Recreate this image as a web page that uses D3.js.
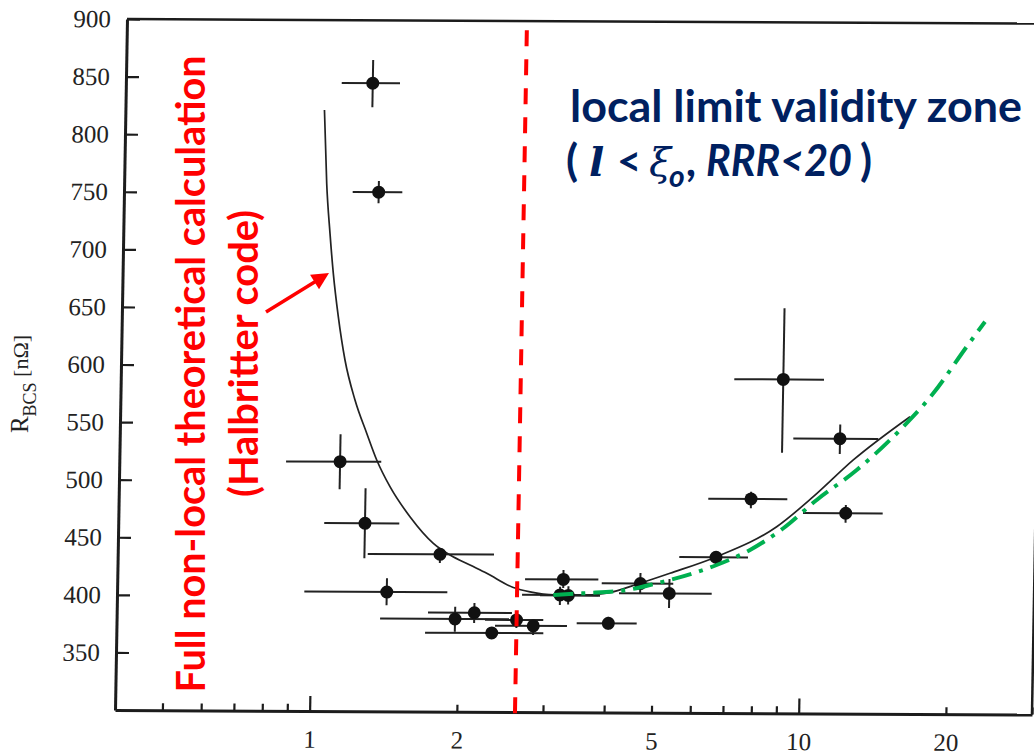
<!DOCTYPE html>
<html><head><meta charset="utf-8">
<script src="https://cdn.jsdelivr.net/npm/d3@7"></script>
<style>html,body{margin:0;padding:0;background:#fff;} svg{display:block;}</style>
</head><body>
<svg id="chart" width="1034" height="754"></svg>
<script>
// ---- data (RRR on log x, R_BCS in nOhm on y) ----
const rrr     = [1.279, 1.327, 1.131, 1.278, 1.824, 1.424, 1.968, 2.154, 2.629, 2.846, 2.342, 3.267, 3.220, 3.348, 4.052, 4.695, 5.385, 6.690, 7.852, 9.052, 11.880, 12.277];
const rbcs    = [845.3, 750.7, 516.6, 463.2, 436.6, 403.6, 380.5, 386.0, 379.9, 374.8, 368.5, 415.3, 401.8, 401.4, 377.4, 412.1, 403.6, 435.2, 486.0, 589.9, 538.7, 474.0];
const rrrLo   = [1.105, 1.174, 0.877, 1.055, 1.298, 0.966, 1.383, 1.732, 2.267, 2.377, 1.711, 2.728, 2.693, 2.931, 3.491, 3.915, 4.250, 5.628, 6.421, 7.187, 9.535, 10.040];
const rrrHi   = [1.454, 1.483, 1.373, 1.502, 2.352, 1.894, 2.803, 2.572, 2.982, 3.336, 2.986, 3.852, 3.852, 3.888, 4.631, 5.483, 6.576, 7.779, 9.315, 10.963, 14.227, 14.611];
const rbcsLo  = [824.5, 741.1, 492.6, 432.8, 429.0, 392.1, 369.5, 377.1, 373.0, 366.9, 365.0, 407.8, 393.1, 393.5, 372.0, 403.8, 390.9, 429.4, 477.9, 526.3, 525.4, 465.8];
const rbcsHi  = [865.5, 760.5, 540.4, 493.6, 442.1, 415.5, 391.2, 394.5, 386.8, 380.8, 372.0, 423.5, 409.0, 409.5, 383.0, 421.2, 416.2, 440.7, 492.3, 651.7, 551.0, 481.1];

// full non-local theory (Halbritter code)
const theoryRRR  = [1.021, 1.038, 1.0586, 1.0787, 1.1083, 1.1478, 1.2071, 1.279, 1.3437, 1.4334, 1.5787, 1.766, 1.9123, 2.1026, 2.2766, 2.583, 2.7964, 3.1205, 3.6519, 4.0117, 4.6881, 5.3938, 6.7119, 8.8817, 10.525, 12.669, 16.488];
const theoryRBCS = [821.9, 758.3, 714.8, 680.1, 642.5, 604.9, 570.2, 541.4, 518.2, 495.1, 469.1, 446.1, 436.0, 427.4, 420.3, 408.1, 404.3, 401.8, 401.9, 403.5, 412.3, 421.1, 435.7, 462.0, 488.2, 520.3, 558.1];

// local limit curve (green dash-dot)
const localRRR  = [3.12, 3.594, 4.406, 5.071, 6.021, 6.716, 7.848, 9.163, 10.698, 12.884, 15.746, 18.36, 21.41, 23.284];
const localRBCS = [401.8, 403.4, 406.4, 412.4, 421.2, 428.5, 441.7, 460.7, 485.4, 511.6, 546.5, 578.5, 619.2, 640.9];

const boundaryRRR = 2.63;            // red dashed boundary
const yTicks = [350, 400, 450, 500, 550, 600, 650, 700, 750, 800, 850, 900];
const xMajor = [1, 2, 5, 10, 20];
const xLong  = [1, 10];
const xMinor = [0.5, 0.6, 0.7, 0.8, 0.9, 3, 4, 6, 7, 8, 9, 30];

// ---- scales ----
const x = d3.scaleLog().domain([0.4, 30]).range([115, 1032]);
const y = d3.scaleLinear().domain([300, 900]).range([710, 19]);

const svg = d3.select("#chart");
svg.append("rect").attr("width", 1034).attr("height", 754).attr("fill", "#fff");

// scanned figure is slightly sheared
const g = svg.append("g").attr("transform", "matrix(1,0.005,-0.01737,1,12.33,-0.575)");
const ink = "#1c1c1c";
const serif = "'Liberation Serif','Times New Roman',serif";

// frame top / right
g.append("line").attr("x1", x.range()[0]).attr("x2", x.range()[1]).attr("y1", y(900)).attr("y2", y(900))
  .attr("stroke", ink).attr("stroke-width", 2.5);
g.append("line").attr("x1", x.range()[1]).attr("x2", x.range()[1]).attr("y1", y(900)).attr("y2", y(300))
  .attr("stroke", ink).attr("stroke-width", 2.5);

// y axis
const ya = g.append("g").attr("transform", `translate(${x.range()[0]},0)`)
  .call(d3.axisLeft(y).tickValues(yTicks).tickSizeInner(-13).tickSizeOuter(0).tickPadding(16).tickFormat(d3.format("d")));
ya.select(".domain").attr("stroke", ink).attr("stroke-width", 3);
ya.selectAll(".tick line").attr("stroke", ink).attr("stroke-width", 2.2);
ya.selectAll(".tick text").attr("font-family", serif).attr("font-size", 25).attr("fill", "#222");

// x axis
const xa = g.append("g").attr("transform", `translate(0,${y(300)})`)
  .call(d3.axisBottom(x).tickValues(xMinor).tickSizeInner(-7).tickSizeOuter(0).tickFormat(""));
xa.select(".domain").attr("stroke", ink).attr("stroke-width", 3);
xa.selectAll(".tick line").attr("stroke", ink).attr("stroke-width", 2.2);
const xb = g.append("g").attr("transform", `translate(0,${y(300)})`)
  .call(d3.axisBottom(x).tickValues(xMajor).tickSizeInner(-7).tickSizeOuter(0).tickPadding(19).tickFormat(d3.format("d")));
xb.select(".domain").remove();
xb.selectAll(".tick line").attr("stroke", ink).attr("stroke-width", 2.2)
  .attr("y2", d => xLong.includes(d) ? -15 : -7);
xb.selectAll(".tick text").attr("font-family", serif).attr("font-size", 25).attr("fill", "#222");

// theory curve
const thLine = d3.line().x(d => x(d[0])).y(d => y(d[1])).curve(d3.curveMonotoneX);
g.append("path").datum(theoryRRR.map((v, i) => [v, theoryRBCS[i]]))
  .attr("d", thLine).attr("fill", "none").attr("stroke", "#222").attr("stroke-width", 1.7);

// error bars + points
const pts = rrr.map((v, i) => ({x: v, y: rbcs[i], xl: rrrLo[i], xh: rrrHi[i], yl: rbcsLo[i], yh: rbcsHi[i]}));
const eb = g.append("g").attr("stroke", "#222").attr("stroke-width", 2);
eb.selectAll("line.h").data(pts).join("line").attr("class", "h")
  .attr("x1", d => x(d.xl)).attr("x2", d => x(d.xh)).attr("y1", d => y(d.y)).attr("y2", d => y(d.y));
eb.selectAll("line.v").data(pts).join("line").attr("class", "v")
  .attr("x1", d => x(d.x)).attr("x2", d => x(d.x)).attr("y1", d => y(d.yl)).attr("y2", d => y(d.yh));
g.append("g").selectAll("circle").data(pts).join("circle")
  .attr("cx", d => x(d.x)).attr("cy", d => y(d.y)).attr("r", 6.5).attr("fill", "#111");

// local-limit curve (green dash-dot)
g.append("path").datum(localRRR.map((v, i) => [v, localRBCS[i]]))
  .attr("d", d3.line().x(d => x(d[0])).y(d => y(d[1])).curve(d3.curveMonotoneX))
  .attr("fill", "none").attr("stroke", "#00b050").attr("stroke-width", 4)
  .attr("stroke-dasharray", "20,8,4,8");

// red dashed boundary
g.append("line").attr("x1", x(boundaryRRR)).attr("x2", x(boundaryRRR))
  .attr("y1", y(892)).attr("y2", y(296))
  .attr("stroke", "#ff0000").attr("stroke-width", 4).attr("stroke-dasharray", "16,13");

// ---- annotations (overlay) ----
// y axis title
const ytl = svg.append("text").attr("transform", "translate(28,384) rotate(-90)")
  .attr("text-anchor", "middle").attr("fill", "#222").attr("font-family", serif);
ytl.append("tspan").attr("font-size", 25).text("R");
ytl.append("tspan").attr("font-size", 18).attr("dy", 8).text("BCS");
ytl.append("tspan").attr("font-size", 22).attr("dy", -8).text(" [nΩ]");

// red rotated text
const sans = "Lato,'Open Sans','Noto Sans',sans-serif";
svg.append("text").attr("transform", "translate(205,374) rotate(-90)")
  .attr("text-anchor", "middle").attr("font-family", sans).attr("font-weight", "bold")
  .attr("font-size", 41).attr("fill", "#ff0000")
  .attr("textLength", 637).attr("lengthAdjust", "spacingAndGlyphs")
  .text("Full non-local theoretical calculation");
svg.append("text").attr("transform", "translate(258,353.5) rotate(-90)")
  .attr("text-anchor", "middle").attr("font-family", sans).attr("font-weight", "bold")
  .attr("font-size", 41).attr("fill", "#ff0000")
  .attr("textLength", 287).attr("lengthAdjust", "spacingAndGlyphs")
  .text("(Halbritter code)");

// red arrow
const tail = [266, 312], tip = [329, 273];
const dx = tip[0] - tail[0], dy = tip[1] - tail[1], L = Math.hypot(dx, dy);
const ux = dx / L, uy = dy / L, hl = 17, hw = 8.5;
const base = [tip[0] - hl * ux, tip[1] - hl * uy];
svg.append("line").attr("x1", tail[0]).attr("y1", tail[1]).attr("x2", base[0] + 2 * ux).attr("y2", base[1] + 2 * uy)
  .attr("stroke", "#ff0000").attr("stroke-width", 3.5);
svg.append("path").attr("fill", "#ff0000")
  .attr("d", `M${tip[0]},${tip[1]}L${base[0] - hw * uy},${base[1] + hw * ux}L${base[0] + hw * uy},${base[1] - hw * ux}Z`);

// navy text
const navy = "#002060";
svg.append("text").attr("x", 570).attr("y", 122).attr("font-family", sans).attr("font-weight", "bold")
  .attr("font-size", 43).attr("fill", navy)
  .attr("textLength", 452).attr("lengthAdjust", "spacingAndGlyphs")
  .text("local limit validity zone");
const l2 = svg.append("g").attr("fill", navy);
l2.append("text").attr("x", 566).attr("y", 176).attr("font-family", sans).attr("font-weight", "bold").attr("font-size", 44).text("(");
l2.append("text").attr("x", 589).attr("y", 176).attr("font-family", "'DejaVu Serif',serif").attr("font-weight", "bold").attr("font-style", "italic").attr("font-size", 40).text("l");
l2.append("text").attr("x", 617).attr("y", 176).attr("font-family", sans).attr("font-weight", "bold").attr("font-size", 42).text("<");
l2.append("text").attr("x", 649).attr("y", 176).attr("font-family", "'DejaVu Serif',serif").attr("font-style", "italic").attr("font-size", 40).text("ξ");
l2.append("text").attr("x", 669).attr("y", 187).attr("font-family", sans).attr("font-weight", "bold").attr("font-style", "italic").attr("font-size", 30).text("o");
l2.append("text").attr("x", 687).attr("y", 176).attr("font-family", sans).attr("font-weight", "bold").attr("font-style", "italic").attr("font-size", 44).text(",");
l2.append("text").attr("x", 706).attr("y", 176).attr("font-family", sans).attr("font-weight", "bold").attr("font-style", "italic").attr("font-size", 44)
  .attr("textLength", 146).attr("lengthAdjust", "spacingAndGlyphs").text("RRR<20");
l2.append("text").attr("x", 860).attr("y", 176).attr("font-family", sans).attr("font-weight", "bold").attr("font-size", 44).text(")");
</script>
</body></html>
